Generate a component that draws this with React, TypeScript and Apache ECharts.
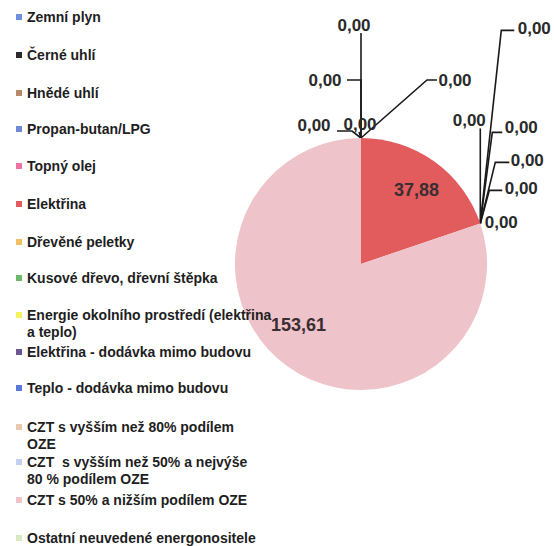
import React, { useEffect, useRef } from "react";
import * as echarts from "echarts";

// ---- data ----
const categories: string[] = [
  "Zemní plyn",
  "Černé uhlí",
  "Hnědé uhlí",
  "Propan-butan/LPG",
  "Topný olej",
  "Elektřina",
  "Dřevěné peletky",
  "Kusové dřevo, dřevní štěpka",
  "Energie okolního prostředí (elektřina\na teplo)",
  "Elektřina - dodávka mimo budovu",
  "Teplo - dodávka mimo budovu",
  "CZT s vyšším než 80% podílem\nOZE",
  "CZT  s vyšším než 50% a nejvýše\n80 % podílem OZE",
  "CZT s 50% a nižším podílem OZE",
  "Ostatní neuvedené energonositele",
];
const values: number[] = [0, 0, 0, 0, 0, 37.88, 0, 0, 0, 0, 0, 0, 0, 153.61, 0];

// ---- styles / layout ----
const colors: string[] = [
  "#6d8fe0", "#2b2b2b", "#b98a68", "#7088d8", "#ef73a0",
  "#e25b5d", "#f2c060", "#6db86a", "#f4f460", "#6c5496",
  "#5a78d8", "#e8c8b0", "#c5cff0", "#eec3c9", "#d8e8c0",
];
// y of the first text line of each legend item
const legendLineY: number[] = [17, 55, 93, 129, 166, 204, 242, 278, 315, 352, 388, 427, 462, 500, 538];
const LINE_H = 17;

// label offset from the slice's edge anchor, and elbow offsets of the leader line
type Out = { l: [number, number]; e1: [number, number]; e2: [number, number] } | null;
const outerLabels: Record<number, Out> = {
  0: { l: [94, -58], e1: [66, -58], e2: [76, -58] },
  1: { l: [-7, -113], e1: [0, -105], e2: [0, -105] },
  2: { l: [-36, -58], e1: [0, -58], e2: [-14, -58] },
  3: { l: [-47, -13], e1: [-9, -7], e2: [-24, -7] },
  4: { l: [-1, -14], e1: [-2, -6], e2: [-2, -6] },
  6: { l: [21, -1], e1: [0, 0], e2: [0, 0] },
  7: { l: [41, -35], e1: [9, -33], e2: [22, -33] },
  8: { l: [47, -63], e1: [15, -61], e2: [29, -61] },
  9: { l: [41, -96], e1: [12, -91], e2: [22, -91] },
  10: { l: [54, -195], e1: [21, -193], e2: [34, -193] },
  11: { l: [-11, -103], e1: [0, -95], e2: [0, -95] },
};
const hiddenLabels = [12, 14];
const innerShift: Record<number, [number, number]> = {
  5: [17, -20],
  13: [-24, 7],
};

const fmt = (v: number) => v.toFixed(2).replace(".", ",");

export default function App() {
  const ref = useRef<HTMLDivElement>(null);
  useEffect(() => {
    if (!ref.current) return;
    const chart = echarts.init(ref.current, undefined, { renderer: "svg" });
    const font = "'Liberation Sans', Arial, sans-serif";

    const legends = categories.map((name, i) => {
      const twoLine = name.includes("\n");
      return {
        data: [name],
        orient: "vertical",
        left: 16,
        top: twoLine ? legendLineY[i] - LINE_H * 1.5 : legendLineY[i] - 7,
        padding: 0,
        icon: "rect",
        itemWidth: 6,
        itemHeight: 6,
        selectedMode: false,
        // an empty leading line keeps the marker level with the first text line
        formatter: (n: string) => (twoLine ? "\n" + n : n),
        textStyle: {
          fontFamily: font,
          fontSize: 14,
          fontWeight: "bold",
          color: "#1e1e1e",
          lineHeight: twoLine ? LINE_H : 14,
        },
      };
    });

    const data = categories.map((name, i) => {
      const inside = innerShift[i] !== undefined;
      const item: any = {
        name,
        value: values[i],
        itemStyle: { color: colors[i] },
      };
      if (inside) {
        item.label = { position: "inside", fontSize: 18, color: "#3a2e33" };
        item.labelLine = { show: false };
      } else if (hiddenLabels.includes(i)) {
        item.label = { show: false };
        item.labelLine = { show: false };
      }
      return item;
    });

    chart.setOption({
      animation: false,
      backgroundColor: "#ffffff",
      legend: legends,
      series: [
        {
          type: "pie",
          center: [361, 264],
          radius: 126,
          startAngle: 90,
          clockwise: true,
          avoidLabelOverlap: false,
          silent: true,
          itemStyle: { borderWidth: 0 },
          label: {
            show: true,
            position: "outside",
            formatter: (p: any) => fmt(p.value),
            fontFamily: font,
            fontSize: 17,
            fontWeight: "bold",
            color: "#2a2a2a",
          },
          labelLine: {
            show: true,
            length: 10,
            length2: 10,
            lineStyle: { color: "#1a1a1a", width: 1.6 },
          },
          labelLayout: (p: any) => {
            const i = p.dataIndex;
            if (innerShift[i]) {
              return { dx: innerShift[i][0], dy: innerShift[i][1] };
            }
            const o = outerLabels[i];
            const pts = p.labelLinePoints;
            if (!o || !pts) return {};
            const ax = pts[0][0];
            const ay = pts[0][1];
            return {
              x: ax + o.l[0],
              y: ay + o.l[1],
              align: "center",
              verticalAlign: "middle",
              labelLinePoints: [
                [ax, ay],
                [ax + o.e1[0], ay + o.e1[1]],
                [ax + o.e2[0], ay + o.e2[1]],
              ],
            };
          },
          data,
        },
      ],
    });
    return () => chart.dispose();
  }, []);
  return (
    <div
      ref={ref}
      style={{ position: "fixed", left: 0, top: 0, width: 554, height: 546 }}
    />
  );
}
